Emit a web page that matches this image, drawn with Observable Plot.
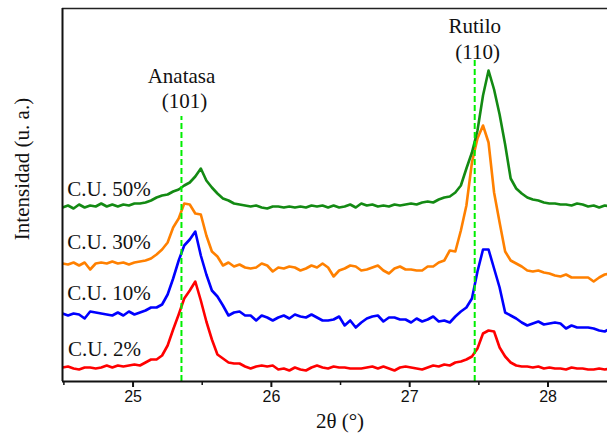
<!DOCTYPE html>
<html><head><meta charset="utf-8">
<script src="https://cdn.jsdelivr.net/npm/d3@7"></script>
<script src="https://cdn.jsdelivr.net/npm/@observablehq/plot@0.6"></script>
<style>body{margin:0;background:#fff}</style>
</head><body><div id="chart"></div>
<script>
// 2θ grid (degrees)
const twoTheta = [24.49,24.53,24.57,24.61,24.65,24.69,24.73,24.77,24.81,24.85,24.89,24.93,24.97,25.01,25.05,25.09,25.13,25.17,25.21,25.25,25.29,25.33,25.37,25.41,25.45,25.49,25.53,25.57,25.61,25.65,25.69,25.73,25.77,25.81,25.85,25.89,25.93,25.97,26.01,26.05,26.09,26.13,26.17,26.21,26.25,26.29,26.33,26.37,26.41,26.45,26.49,26.53,26.57,26.61,26.65,26.69,26.73,26.77,26.81,26.85,26.89,26.93,26.97,27.01,27.05,27.09,27.13,27.17,27.21,27.25,27.29,27.33,27.37,27.41,27.45,27.49,27.53,27.57,27.61,27.65,27.69,27.73,27.77,27.81,27.85,27.89,27.93,27.97,28.01,28.05,28.09,28.13,28.17,28.21,28.25,28.29,28.33,28.37,28.41,28.45];

// Intensities (arbitrary units, stacked as displayed)
const cu50 = [174,176,173,177,174,176,175,178,175,177,175,177,176,178,178,179,181,184,186,187,190,192,196,199,205,213,201,194,188,183,181,178,177,176,175,176,174,173,175,175,174,175,174,175,174,176,175,176,174,176,174,175,177,174,178,176,177,175,176,175,177,176,177,178,177,179,180,179,182,184,185,189,196,213,229,251,286,311,292,267,237,203,193,188,184,182,181,179,178,178,177,177,176,178,177,175,176,174,176,175];
const cu30 = [118,117,119,116,119,112,118,119,118,120,118,119,117,119,120,121,123,127,132,139,154,163,178,177,168,167,146,130,125,116,119,115,117,114,113,114,118,116,110,114,113,115,114,111,113,116,114,118,114,105,111,113,116,115,111,112,114,116,111,108,113,115,112,112,111,111,115,115,119,121,131,130,151,176,219,243,256,239,189,159,130,121,118,115,111,110,111,109,108,106,105,107,104,104,104,104,100,104,107,108];
const cu10 = [68,66,68,67,63,70,69,68,67,66,69,66,70,67,69,71,74,74,77,87,103,121,136,142,150,126,107,91,85,76,66,69,70,66,66,61,66,64,61,64,66,63,67,65,64,67,64,61,61,62,65,56,61,54,59,63,65,66,60,64,64,62,62,59,63,60,62,65,60,61,59,65,70,74,83,110,132,132,113,94,69,66,63,59,56,58,60,57,58,59,58,53,56,54,54,54,53,51,50,53];
const cu2 = [14,15,13,12,14,14,13,14,16,14,16,15,16,17,16,19,22,22,26,36,52,67,83,91,100,81,60,42,27,23,19,18,18,15,13,15,16,15,16,12,13,11,14,12,11,14,16,14,13,15,14,14,13,13,13,14,15,13,15,13,11,14,15,14,13,12,14,16,15,17,16,19,20,22,25,33,48,51,50,34,25,19,16,15,15,14,15,13,14,13,13,12,14,13,13,12,12,13,12,13];

const seriesNames = ["C.U. 2%", "C.U. 10%", "C.U. 30%", "C.U. 50%"];
const seriesColors = ["#ff0000", "#0000ff", "#ff8000", "#138a13"];
const seriesValues = [cu2, cu10, cu30, cu50];
// label anchor (2θ, intensity) for series names
const labelTheta = [24.53, 24.525, 24.525, 24.525];
const labelLevel = [26, 82, 133, 186];

// reference phase lines
const phaseNames = ["Anatasa", "Rutilo"];
const phaseHkl = ["(101)", "(110)"];
const phaseTheta = [25.35, 27.47];
const phaseTop = [265, 324];
const phaseNameLevel = [299, 349];
const phaseHklLevel = [274, 323];

const xDomain = [24.49, 28.43];
const yDomain = [0, 373];
const majorTicks = [25, 26, 27, 28];
const minorTicks = [24.5, 25.5, 26.5, 27.5];

const rows = seriesNames.flatMap((name, s) =>
  twoTheta.map((t, i) => ({name, t, v: seriesValues[s][i]})));
const labels = seriesNames.map((name, s) => ({name, t: labelTheta[s], v: labelLevel[s]}));
const phases = phaseNames.map((name, i) => ({name, hkl: phaseHkl[i], t: phaseTheta[i], top: phaseTop[i], ny: phaseNameLevel[i], hy: phaseHklLevel[i]}));

const serif = "'Liberation Serif', 'Times New Roman', Times, serif";
const sans = "'Liberation Sans', Arial, Helvetica, sans-serif";

const chart = Plot.plot({
  width: 607, height: 437,
  marginLeft: 62, marginRight: 0, marginTop: 8, marginBottom: 56,
  style: {fontFamily: serif, fontSize: "21px", background: "#fff"},
  x: {domain: xDomain},
  y: {domain: yDomain, axis: null},
  color: {domain: seriesNames, range: seriesColors},
  marks: [
    Plot.line(rows, {x: "t", y: "v", z: "name", stroke: "name", strokeWidth: 2.6, clip: true, strokeLinejoin: "round"}),
    Plot.ruleX(phases, {x: "t", y1: 0, y2: "top", stroke: "#00ee00", strokeWidth: 2, strokeDasharray: "6,3"}),
    Plot.text(phases, {x: "t", y: "ny", text: "name", lineAnchor: "bottom", fontFamily: serif, fontSize: 21, fill: "#111"}),
    Plot.text(phases, {x: "t", y: "hy", text: "hkl", lineAnchor: "bottom", fontFamily: serif, fontSize: 21, fill: "#111", dx: 3}),
    Plot.text(labels, {x: "t", y: "v", text: "name", textAnchor: "start", lineAnchor: "bottom", fontFamily: serif, fontSize: 21, fill: "#111"}),
    Plot.ruleY([yDomain[0]], {stroke: "#111", strokeWidth: 2}),
    Plot.ruleY([yDomain[1]], {stroke: "#222", strokeWidth: 1.5}),
    Plot.ruleX([xDomain[0]], {stroke: "#111", strokeWidth: 2}),
    Plot.axisX(majorTicks, {tickSize: 6, tickPadding: 3, strokeWidth: 2, stroke: "#111", tickFormat: d => String(d), fontFamily: sans, fontSize: 16, fill: "#111", label: null}),
    Plot.axisX(minorTicks, {tickSize: 4, strokeWidth: 1.5, stroke: "#111", tickFormat: () => "", label: null}),
    Plot.text(["2θ (°)"], {frameAnchor: "bottom", dy: 46, dx: 5, lineAnchor: "bottom", fontFamily: serif, fontSize: 21, fill: "#111"}),
    Plot.text(["Intensidad (u. a.)"], {frameAnchor: "left", textAnchor: "middle", dx: -40, dy: -26, rotate: -90, fontFamily: serif, fontSize: 21, fill: "#111"})
  ]
});
document.getElementById("chart").appendChild(chart);
</script>
</body></html>
